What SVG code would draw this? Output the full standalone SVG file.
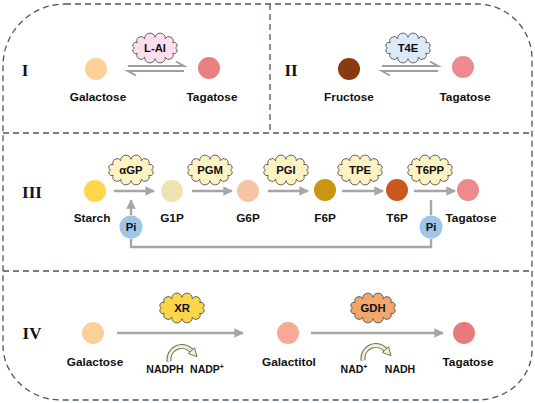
<svg xmlns="http://www.w3.org/2000/svg" xmlns:xlink="http://www.w3.org/1999/xlink" width="535" height="403" viewBox="0 0 535 403">
<style>
.frame{fill:none;stroke:#4b5563;stroke-width:1.3;stroke-dasharray:6 4}
.lbl{font-family:"Liberation Sans",Arial,sans-serif;font-weight:bold;font-size:11.8px;fill:#111;text-anchor:middle}
.enz{font-family:"Liberation Sans",Arial,sans-serif;font-weight:bold;font-size:11.3px;fill:#111;text-anchor:middle}
.co{font-family:"Liberation Sans",Arial,sans-serif;font-weight:bold;font-size:10.5px;fill:#111;text-anchor:middle}
.rom{font-family:"Liberation Serif","Times New Roman",serif;font-weight:bold;font-size:17px;fill:#111;text-anchor:middle}
.cl{stroke:#555;stroke-width:0.8}
.ln{fill:none;stroke:#a6a6a6;stroke-width:2.4}
.eq{fill:none;stroke:#9e9e9e;stroke-width:2}
</style>
<defs>
<path id="cloud" d="M17.5,0 A1,1 0 0 1 15.16,4.75 A1,1 0 0 1 8.75,8.23 A1,1 0 0 1 0,9.5 A1,1 0 0 1 -8.75,8.23 A1,1 0 0 1 -15.16,4.75 A1,1 0 0 1 -17.5,0 A1,1 0 0 1 -15.16,-4.75 A1,1 0 0 1 -8.75,-8.23 A1,1 0 0 1 0,-9.5 A1,1 0 0 1 8.75,-8.23 A1,1 0 0 1 15.16,-4.75 A1,1 0 0 1 17.5,0 Z"/>
<marker id="ah" viewBox="0 0 10 10" refX="9" refY="5" markerWidth="4" markerHeight="4" orient="auto" markerUnits="strokeWidth">
<path d="M0,0 L10,5 L0,10 Z" fill="#a6a6a6"/>
</marker>
<g id="curl">
<path d="M0,13 A11,11 0 0 1 19,4" fill="none" stroke="#6b6b55" stroke-width="4.2"/>
<path d="M0,13 A11,11 0 0 1 19,4" fill="none" stroke="#f1efd6" stroke-width="2.4"/>
<polygon points="21.6,1.5 23.8,9.1 16.4,6.4" fill="#f1efd6" stroke="#6b6b55" stroke-width="0.8"/>
</g>
</defs>

<g id="frame">
<path class="frame" d="M65,4 L477,4 A55,55 0 0 1 532,59 L532,350 A55,50 0 0 1 477,400 L61,400 A58,55 0 0 1 3,345 L3,66 A62,62 0 0 1 65,4 Z"/>
<line class="frame" x1="3" y1="133" x2="532" y2="133"/>
<line class="frame" x1="3" y1="271" x2="532" y2="271"/>
<line class="frame" x1="270" y1="4" x2="270" y2="133"/>
</g>

<g id="connectors">
<path class="eq" d="M128,66 L184,66 L176,61.5"/>
<path class="eq" d="M184,71 L128,71 L136,75.5"/>
<path class="eq" d="M382,66 L438,66 L430,61.5"/>
<path class="eq" d="M438,71 L382,71 L390,75.5"/>
<line class="ln" x1="114" y1="191" x2="154" y2="191" marker-end="url(#ah)"/>
<line class="ln" x1="192" y1="191" x2="232" y2="191" marker-end="url(#ah)"/>
<line class="ln" x1="268" y1="191" x2="308" y2="191" marker-end="url(#ah)"/>
<line class="ln" x1="342" y1="191" x2="383" y2="191" marker-end="url(#ah)"/>
<line class="ln" x1="414" y1="191" x2="455" y2="191" marker-end="url(#ah)"/>
<line class="ln" x1="131" y1="215" x2="131" y2="200" marker-end="url(#ah)"/>
<line class="ln" x1="431" y1="200" x2="431" y2="215"/>
<path class="ln" d="M431,239 L431,247 L131,247 L131,239"/>
<line class="ln" x1="117" y1="333" x2="243" y2="333" marker-end="url(#ah)"/>
<line class="ln" x1="311" y1="333" x2="443" y2="333" marker-end="url(#ah)"/>
<use xlink:href="#curl" href="#curl" transform="translate(169,346) scale(1.18)"/>
<use xlink:href="#curl" href="#curl" transform="translate(363,345) scale(1.18)"/>
</g>

<g id="sec1">
<text class="rom" x="25" y="76">I</text>
</g>
<g id="galactose1"><circle cx="96" cy="69" r="11" fill="#fdd09a"/><text class="lbl" x="98" y="101">Galactose</text></g>
<g id="tagatose1"><circle cx="209" cy="68" r="11" fill="#ea7f82"/><text class="lbl" x="212" y="101">Tagatose</text></g>
<g id="LAI"><use xlink:href="#cloud" href="#cloud" class="cl" fill="#fbdfee" transform="translate(155,48) scale(1.17,1.12)"/><text class="enz" x="155" y="52">L-AI</text></g>

<g id="sec2"><text class="rom" x="291" y="76">II</text></g>
<g id="fructose"><circle cx="349" cy="69" r="11" fill="#8a3a10"/><text class="lbl" x="349" y="101">Fructose</text></g>
<g id="tagatose2"><circle cx="463" cy="67" r="11" fill="#ef8b8d"/><text class="lbl" x="465" y="101">Tagatose</text></g>
<g id="T4E"><use xlink:href="#cloud" href="#cloud" class="cl" fill="#dce9f8" transform="translate(408,48) scale(1.17,1.12)"/><text class="enz" x="408" y="52">T4E</text></g>

<g id="sec3"><text class="rom" x="32" y="198">III</text></g>
<g id="starch"><circle cx="95" cy="191" r="11" fill="#fed54c"/><text class="lbl" x="92" y="222">Starch</text></g>
<g id="G1P"><circle cx="172" cy="191" r="11" fill="#efe3b3"/><text class="lbl" x="172" y="222">G1P</text></g>
<g id="G6P"><circle cx="248" cy="191" r="11" fill="#f7c3a5"/><text class="lbl" x="248" y="222">G6P</text></g>
<g id="F6P"><circle cx="325" cy="190" r="11" fill="#c8960f"/><text class="lbl" x="325" y="222">F6P</text></g>
<g id="T6P"><circle cx="397" cy="190" r="11" fill="#c9581c"/><text class="lbl" x="397" y="222">T6P</text></g>
<g id="tagatose3"><circle cx="468" cy="190" r="11" fill="#ef8a8c"/><text class="lbl" x="471" y="222">Tagatose</text></g>
<g id="Pi1"><circle cx="131" cy="227" r="11.5" fill="#9fc5e8"/><text class="enz" x="131" y="231">Pi</text></g>
<g id="Pi2"><circle cx="431" cy="227" r="11.5" fill="#9fc5e8"/><text class="enz" x="431" y="231">Pi</text></g>
<g id="aGP"><use xlink:href="#cloud" href="#cloud" class="cl" fill="#fdf2c2" transform="translate(131,170) scale(1.17,1.12)"/><text class="enz" x="131" y="174">αGP</text></g>
<g id="PGM"><use xlink:href="#cloud" href="#cloud" class="cl" fill="#fdf2c2" transform="translate(210,170) scale(1.17,1.12)"/><text class="enz" x="210" y="174">PGM</text></g>
<g id="PGI"><use xlink:href="#cloud" href="#cloud" class="cl" fill="#fdf2c2" transform="translate(286,170) scale(1.17,1.12)"/><text class="enz" x="286" y="174">PGI</text></g>
<g id="TPE"><use xlink:href="#cloud" href="#cloud" class="cl" fill="#fdf2c2" transform="translate(360,170) scale(1.17,1.12)"/><text class="enz" x="360" y="174">TPE</text></g>
<g id="T6PP"><use xlink:href="#cloud" href="#cloud" class="cl" fill="#fdf2c2" transform="translate(430,170) scale(1.17,1.12)"/><text class="enz" x="430" y="174">T6PP</text></g>

<g id="sec4"><text class="rom" x="32" y="339">IV</text></g>
<g id="galactose4"><circle cx="93" cy="333" r="11" fill="#fdd09a"/><text class="lbl" x="95" y="366">Galactose</text></g>
<g id="galactitol"><circle cx="288" cy="333" r="11" fill="#f9a997"/><text class="lbl" x="289" y="366">Galactitol</text></g>
<g id="tagatose4"><circle cx="464" cy="333" r="11" fill="#e87a7e"/><text class="lbl" x="468" y="366">Tagatose</text></g>
<g id="XR"><use xlink:href="#cloud" href="#cloud" class="cl" fill="#fdd54b" transform="translate(182,308) scale(1.17,1.12)"/><text class="enz" x="182" y="312">XR</text></g>
<g id="GDH"><use xlink:href="#cloud" href="#cloud" class="cl" fill="#f3a66c" transform="translate(373,308) scale(1.17,1.12)"/><text class="enz" x="373" y="312">GDH</text></g>
<g id="cofactors">
<text class="co" x="165" y="373">NADPH</text>
<text class="co" x="207" y="373">NADP<tspan dy="-4" font-size="7">+</tspan></text>
<text class="co" x="354" y="373">NAD<tspan dy="-4" font-size="7">+</tspan></text>
<text class="co" x="400" y="373">NADH</text>
</g>
</svg>
